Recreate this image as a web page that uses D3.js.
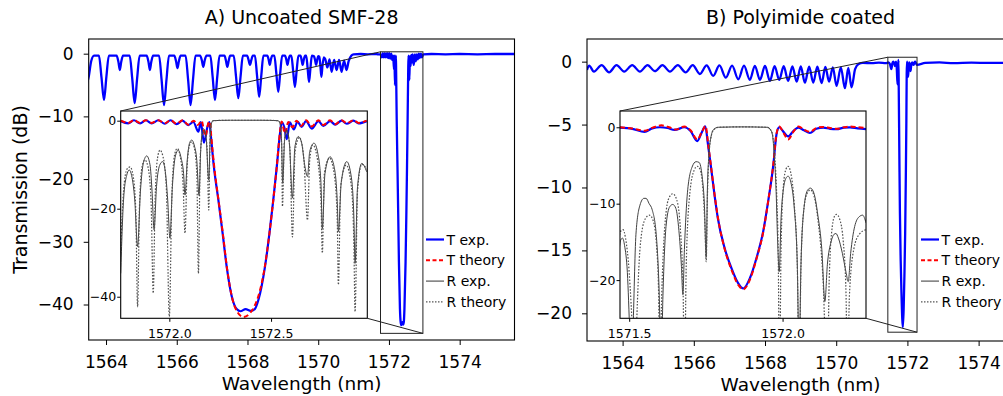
<!DOCTYPE html>
<html>
<head>
<meta charset="utf-8">
<script src="https://cdn.jsdelivr.net/npm/d3@7"></script>
<style>
  body { margin: 0; background: #fff; }
  svg { display: block; }
</style>
</head>
<body>
<svg id="chart" width="1003" height="396"></svg>
<script>
// ---- data (wavelength nm, dB) ----
const titles = ["A) Uncoated SMF-28", "B) Polyimide coated"];
const legendLabels = ["T exp.", "T theory", "R exp.", "R theory"];
const xTicksMain = [1564, 1566, 1568, 1570, 1572, 1574];
const yTicksA = [0, -10, -20, -30, -40];
const yTicksB = [0, -5, -10, -15, -20];
const xTicksInsetA = [1572.0, 1572.5];
const yTicksInsetA = [0, -20, -40];
const xTicksInsetB = [1571.5, 1572.0];
const yTicksInsetB = [0, -10, -20];

// panel A, transmission outside the zoomed window
const aMainLeft = [
  [1563.45,-5.0],[1563.51,-3.7],[1563.58,-1.2],[1563.66,-0.3],
  [1563.80,-0.3],[1563.87,-3.7],[1563.943,-7.4],[1564.01,-3.7],[1564.08,-0.3],
  [1564.30,-0.3],[1564.35,-1.3],[1564.39,-2.6],[1564.43,-1.3],[1564.48,-0.3],
  [1564.67,-0.3],[1564.74,-3.9],[1564.81,-7.9],[1564.88,-3.9],[1564.95,-0.3],
  [1565.15,-0.3],[1565.20,-1.3],[1565.24,-2.6],[1565.28,-1.3],[1565.33,-0.3],
  [1565.50,-0.3],[1565.57,-4.1],[1565.64,-8.2],[1565.71,-4.1],[1565.78,-0.3],
  [1565.93,-0.3],[1565.98,-1.2],[1566.02,-2.3],[1566.06,-1.2],[1566.11,-0.3],
  [1566.25,-0.3],[1566.32,-4.1],[1566.39,-8.2],[1566.46,-4.1],[1566.53,-0.3],
  [1566.66,-0.3],[1566.71,-1.1],[1566.75,-2.1],[1566.79,-1.1],[1566.84,-0.3],
  [1566.95,-0.3],[1567.015,-3.7],[1567.08,-7.4],[1567.145,-3.7],[1567.21,-0.3],
  [1567.35,-0.3],[1567.39,-1.1],[1567.43,-2.1],[1567.47,-1.1],[1567.51,-0.3],
  [1567.61,-0.3],[1567.675,-3.6],[1567.74,-7.1],[1567.805,-3.6],[1567.87,-0.3],
  [1567.99,-0.3],[1568.03,-1.0],[1568.07,-1.8],[1568.11,-1.0],[1568.15,-0.3],
  [1568.21,-0.3],[1568.27,-3.5],[1568.33,-6.9],[1568.39,-3.5],[1568.45,-0.3],
  [1568.56,-0.3],[1568.60,-1.0],[1568.63,-1.8],[1568.66,-1.0],[1568.70,-0.3],
  [1568.76,-0.3],[1568.815,-3.1],[1568.87,-6.1],[1568.925,-3.1],[1568.98,-0.3],
  [1569.06,-0.3],[1569.10,-1.0],[1569.13,-1.8],[1569.16,-1.0],[1569.20,-0.3],
  [1569.24,-0.3],[1569.29,-2.7],[1569.34,-5.3],[1569.39,-2.7],[1569.44,-0.3],
  [1569.50,-0.3],[1569.53,-1.0],[1569.56,-1.8],[1569.59,-1.0],[1569.63,-0.3],
  [1569.66,-0.3],[1569.70,-2.3],[1569.74,-4.5],[1569.78,-2.3],[1569.82,-0.3],
  [1569.88,-0.4],[1569.91,-1.0],[1569.94,-1.8],[1569.97,-1.0],[1570.00,-0.4],
  [1570.03,-0.5],[1570.06,-1.9],[1570.09,-3.7],[1570.12,-1.9],[1570.16,-0.6],
  [1570.20,-0.9],[1570.26,-2.2],[1570.32,-0.9],[1570.38,-2.9],[1570.45,-1.0],
  [1570.52,-2.6],[1570.59,-1.0],[1570.66,-2.9],[1570.73,-1.1],[1570.80,-2.6],
  [1570.86,-1.2],[1570.94,-0.3],[1571.00,-0.1],[1571.20,-0.05],[1571.40,-0.1],
  [1571.60,-0.05],[1571.70,-0.1]
];
const aMainRight = [
  [1573.2,-0.05],[1573.6,-0.1],[1574.0,-0.05],[1574.5,-0.1],[1575.0,-0.05],[1575.6,-0.05]
];

// panel A inset
const aTexp = [
  [1571.761,-0.1],[1571.798,-0.6],[1571.826,0.1],[1571.856,-0.6],[1571.885,0.1],
  [1571.913,-0.6],[1571.946,0.1],[1571.978,-0.7],[1572.006,0.1],[1572.036,-0.8],
  [1572.065,0.0],[1572.093,-1.0],[1572.118,-0.3],[1572.143,-2.5],[1572.155,-0.3],
  [1572.170,-5.0],[1572.187,-1.5],[1572.197,-0.3],[1572.203,-2.9],[1572.219,-10.5],
  [1572.241,-18],[1572.262,-25.6],[1572.282,-33.2],[1572.311,-40.7],[1572.331,-42.8],
  [1572.350,-43.3],[1572.375,-42.8],[1572.400,-43.2],[1572.420,-42.8],[1572.438,-40.7],
  [1572.470,-33.2],[1572.492,-25.6],[1572.511,-18],[1572.528,-10.5],[1572.544,-2.9],
  [1572.552,-0.3],[1572.565,-1.5],[1572.577,-4.2],[1572.592,-0.4],[1572.612,-2.0],
  [1572.630,-0.2],[1572.650,-1.4],[1572.672,-0.1],[1572.700,-1.8],[1572.733,-0.1],
  [1572.757,-1.2],[1572.790,-0.1],[1572.815,-0.9],[1572.847,0.0],[1572.872,-0.7],
  [1572.905,0.0],[1572.930,-0.6],[1572.970,-0.1]
];
const aTtheory = [
  [1571.761,0.0],[1571.798,-0.5],[1571.826,0.1],[1571.856,-0.5],[1571.885,0.1],
  [1571.913,-0.5],[1571.946,0.1],[1571.978,-0.6],[1572.006,0.1],[1572.036,-0.7],
  [1572.065,0.1],[1572.093,-0.9],[1572.120,0.0],[1572.140,-1.0],[1572.158,0.0],
  [1572.178,-3.5],[1572.192,-0.5],[1572.200,-0.2],[1572.206,-3.5],[1572.222,-11],
  [1572.243,-18.5],[1572.264,-26],[1572.285,-34],[1572.310,-40.5],[1572.335,-43.5],
  [1572.364,-44.6],[1572.395,-43.8],[1572.420,-42],[1572.440,-39.5],[1572.470,-33],
  [1572.492,-25.6],[1572.511,-18],[1572.528,-10.5],[1572.543,-2.9],[1572.552,-0.2],
  [1572.568,-2.9],[1572.585,-0.3],[1572.605,-1.5],[1572.625,0.0],[1572.648,-1.2],
  [1572.672,0.1],[1572.700,-1.3],[1572.733,0.1],[1572.757,-1.0],[1572.790,0.1],
  [1572.815,-0.8],[1572.847,0.1],[1572.872,-0.6],[1572.905,0.1],[1572.930,-0.5],
  [1572.970,0.0]
];
const aRexp = [
  [1571.761,-34.7],[1571.775,-18],[1571.790,-12.5],[1571.803,-11.2],[1571.815,-12.5],
  [1571.830,-18],[1571.844,-28.6],[1571.858,-16],[1571.873,-9.5],[1571.889,-8.0],
  [1571.905,-10],[1571.915,-16],[1571.925,-24.8],[1571.937,-15],[1571.952,-10.2],
  [1571.967,-9.3],[1571.980,-11.5],[1571.992,-18],[1572.003,-26.7],[1572.015,-15],
  [1572.030,-8.0],[1572.044,-6.7],[1572.058,-8.5],[1572.070,-12],[1572.077,-16.9],
  [1572.088,-9],[1572.100,-5.0],[1572.110,-4.4],[1572.122,-5.5],[1572.135,-9],
  [1572.146,-17],[1572.155,-6],[1572.167,-1.8],[1572.180,-3.5],[1572.194,-13.5],
  [1572.200,-5],[1572.206,-0.8],[1572.215,0.0],[1572.300,0.1],[1572.450,0.1],
  [1572.535,0.0],[1572.545,-0.8],[1572.552,-5],[1572.557,-14.2],[1572.567,-4],
  [1572.577,-2.1],[1572.590,-5],[1572.605,-17.6],[1572.617,-6],[1572.634,-3.6],
  [1572.650,-5],[1572.665,-10],[1572.679,-12.7],[1572.690,-7],[1572.711,-5.1],
  [1572.730,-7.5],[1572.745,-14],[1572.752,-24.5],[1572.765,-12],[1572.790,-8.2],
  [1572.810,-10.5],[1572.825,-18],[1572.831,-25.2],[1572.845,-14],[1572.872,-9.3],
  [1572.895,-13],[1572.907,-22],[1572.913,-32.4],[1572.925,-15],[1572.946,-9.7],
  [1572.970,-11.6]
];
const aRtheory = [
  [1571.761,-30],[1571.775,-16],[1571.792,-11],[1571.807,-10.5],[1571.820,-12],
  [1571.835,-20],[1571.844,-42.3],[1571.853,-20],[1571.866,-10.5],[1571.880,-8.9],
  [1571.895,-10.5],[1571.910,-18],[1571.921,-39.2],[1571.930,-18],[1571.942,-8.5],
  [1571.954,-6.7],[1571.968,-8],[1571.985,-15],[1572.000,-44.5],[1572.012,-18],
  [1572.025,-8],[1572.039,-6.3],[1572.053,-8],[1572.068,-15],[1572.077,-25.6],
  [1572.088,-10],[1572.100,-5.5],[1572.110,-4.8],[1572.122,-6],[1572.135,-12],
  [1572.143,-34.7],[1572.152,-8],[1572.165,-2.8],[1572.175,-2.5],[1572.185,-6],
  [1572.194,-20.3],[1572.200,-4],[1572.207,-0.5],[1572.217,0.0],[1572.300,0.1],
  [1572.450,0.1],[1572.535,0.0],[1572.546,-1],[1572.552,-6],[1572.556,-19.5],
  [1572.565,-5],[1572.577,-2.5],[1572.592,-6],[1572.605,-26.4],[1572.618,-7],
  [1572.639,-3.8],[1572.660,-8],[1572.679,-22.6],[1572.690,-9],[1572.705,-5.5],
  [1572.725,-8],[1572.745,-18],[1572.752,-30.1],[1572.762,-12],[1572.787,-8.5],
  [1572.810,-12],[1572.825,-22],[1572.831,-37.3],[1572.842,-15],[1572.869,-10.1],
  [1572.895,-15],[1572.907,-28],[1572.913,-43.4],[1572.925,-16],[1572.946,-9.9],
  [1572.970,-11]
];

// panel B, transmission outside the zoomed window
const bMainLeft = [
  [1563.0,-0.66],[1563.06,-0.32],[1563.194,-0.79],[1563.41,-0.28],[1563.62,-0.85],
  [1563.83,-0.28],[1564.045,-0.79],[1564.27,-0.28],[1564.486,-0.79],[1564.70,-0.28],
  [1564.907,-0.75],[1565.12,-0.28],[1565.33,-0.79],[1565.55,-0.28],[1565.77,-0.85],
  [1565.97,-0.28],[1566.17,-0.98],[1566.36,-0.30],[1566.545,-1.13],[1566.72,-0.30],
  [1566.90,-1.27],[1567.075,-0.32],[1567.25,-1.40],[1567.41,-0.32],[1567.575,-1.45],
  [1567.715,-0.33],[1567.857,-1.45],[1568.0,-0.34],[1568.138,-1.53],[1568.27,-0.35],
  [1568.40,-1.45],[1568.525,-0.36],[1568.65,-1.53],[1568.77,-0.37],[1568.89,-1.59],
  [1569.005,-0.38],[1569.12,-1.67],[1569.24,-0.40],[1569.355,-1.67],[1569.47,-0.40],
  [1569.59,-1.71],[1569.695,-0.42],[1569.80,-1.59],[1569.905,-0.45],[1570.01,-1.93],
  [1570.13,-0.45],[1570.245,-2.11],[1570.34,-0.50],[1570.43,-2.04],[1570.53,-0.60],
  [1570.62,-0.20],[1570.75,-0.10],[1571.0,-0.12],[1571.2,-0.08],[1571.40,-0.12]
];
const bMainRight = [
  [1572.5,-0.1],[1572.9,-0.06],[1573.3,-0.12],[1573.8,-0.08],[1574.3,-0.1],[1575.1,-0.08]
];

// panel B inset
const bTexp = [
  [1571.470,-0.05],[1571.510,-0.2],[1571.550,-0.6],[1571.575,-0.15],[1571.600,0.0],
  [1571.625,-0.1],[1571.648,-0.35],[1571.680,0.0],[1571.700,-0.5],[1571.722,-1.8],
  [1571.735,-0.8],[1571.748,0.13],[1571.757,-2.3],[1571.767,-5.3],[1571.778,-8.8],
  [1571.789,-11.9],[1571.811,-15.8],[1571.833,-18.4],[1571.855,-20.4],[1571.872,-21.1],
  [1571.894,-19.7],[1571.915,-17.1],[1571.937,-13.6],[1571.953,-9.7],[1571.970,-4.9],
  [1571.980,-0.97],[1571.989,0.0],[1572.003,-0.6],[1572.018,-1.2],[1572.035,-0.5],
  [1572.051,-0.05],[1572.070,-0.4],[1572.089,-0.75],[1572.110,-0.2],[1572.133,-0.05],
  [1572.155,-0.2],[1572.176,-0.25],[1572.200,-0.05],[1572.220,0.0],[1572.245,-0.15],
  [1572.272,-0.25]
];
const bTtheory = [
  [1571.470,0.0],[1571.510,-0.15],[1571.550,-0.45],[1571.580,0.0],[1571.605,0.25],
  [1571.630,0.0],[1571.652,-0.3],[1571.680,0.1],[1571.700,-0.4],[1571.722,-1.6],
  [1571.737,-0.6],[1571.749,0.15],[1571.758,-2.4],[1571.768,-5.5],[1571.779,-9.0],
  [1571.790,-12.0],[1571.811,-15.9],[1571.833,-18.6],[1571.855,-20.6],[1571.872,-21.2],
  [1571.894,-19.9],[1571.915,-17.2],[1571.937,-13.7],[1571.953,-9.7],[1571.970,-4.8],
  [1571.980,-0.9],[1571.989,0.1],[1572.004,-0.8],[1572.018,-1.6],[1572.035,-0.6],
  [1572.052,0.1],[1572.070,-0.3],[1572.089,-0.6],[1572.110,-0.1],[1572.133,0.05],
  [1572.155,-0.1],[1572.178,-0.2],[1572.200,0.0],[1572.220,0.1],[1572.245,0.0],
  [1572.272,-0.1]
];
const bRexp = [
  [1571.466,-16.5],[1571.472,-14.8],[1571.478,-14.5],[1571.485,-15.5],[1571.494,-19],
  [1571.502,-27],[1571.507,-32],[1571.512,-27],[1571.522,-14],[1571.535,-10.2],
  [1571.548,-9.3],[1571.555,-9.3],[1571.565,-10.0],[1571.575,-10.8],[1571.588,-14],
  [1571.598,-22],[1571.604,-32],[1571.610,-22],[1571.620,-13],[1571.632,-10.4],
  [1571.642,-10.1],[1571.652,-10.6],[1571.662,-13.5],[1571.670,-18],[1571.675,-21.9],
  [1571.680,-16],[1571.690,-8.5],[1571.705,-5.2],[1571.718,-4.5],[1571.728,-4.6],
  [1571.738,-6.5],[1571.745,-10],[1571.751,-17],[1571.755,-8],[1571.760,-3.5],
  [1571.767,-1.2],[1571.775,-0.3],[1571.790,0.0],[1571.870,0.05],[1571.950,0.0],
  [1571.962,-0.4],[1571.967,-1.0],[1571.972,-3.1],[1571.979,-8.4],[1571.984,-15],
  [1571.989,-18.9],[1571.995,-12],[1572.003,-8],[1572.012,-6.6],[1572.018,-6.4],
  [1572.027,-7.2],[1572.038,-10.5],[1572.048,-18],[1572.054,-30],[1572.060,-18],
  [1572.070,-10.5],[1572.082,-8.2],[1572.091,-7.96],[1572.102,-8.6],[1572.115,-11.5],
  [1572.128,-16],[1572.138,-22.8],[1572.146,-18],[1572.158,-15],[1572.168,-14.0],
  [1572.174,-13.9],[1572.182,-14.5],[1572.195,-16.5],[1572.207,-19],[1572.214,-20.2],
  [1572.222,-16.5],[1572.235,-13],[1572.250,-11.7],[1572.261,-11.5],[1572.272,-12.5]
];
const bRtheory = [
  [1571.466,-14.5],[1571.474,-13.5],[1571.480,-13.4],[1571.488,-14.5],[1571.500,-19],
  [1571.512,-28],[1571.518,-34],[1571.524,-26],[1571.536,-15.5],[1571.552,-12],
  [1571.566,-11.5],[1571.578,-12.2],[1571.590,-16],[1571.596,-22],[1571.599,-34],
  [1571.606,-22],[1571.618,-12],[1571.630,-9.2],[1571.642,-8.7],[1571.655,-9.5],
  [1571.668,-14],[1571.676,-22],[1571.680,-34],[1571.686,-18],[1571.698,-8.5],
  [1571.712,-5.6],[1571.722,-5.1],[1571.732,-5.6],[1571.741,-8.5],[1571.747,-13],
  [1571.751,-17.6],[1571.755,-9],[1571.760,-3.8],[1571.767,-1.2],[1571.776,-0.3],
  [1571.790,0.0],[1571.870,0.05],[1571.950,0.0],[1571.962,-0.4],[1571.968,-1.1],
  [1571.974,-3.5],[1571.981,-9],[1571.986,-17],[1571.990,-34],[1571.995,-16],
  [1572.003,-7.5],[1572.011,-5.5],[1572.018,-5.1],[1572.027,-6],[1572.038,-10],
  [1572.048,-18],[1572.054,-34],[1572.060,-18],[1572.070,-10.5],[1572.082,-8.5],
  [1572.091,-8.2],[1572.102,-8.9],[1572.115,-12],[1572.132,-20],[1572.146,-34],
  [1572.152,-20],[1572.162,-13],[1572.170,-11.6],[1572.176,-11.4],[1572.186,-12],
  [1572.198,-15],[1572.207,-22],[1572.211,-34],[1572.218,-22],[1572.232,-16],
  [1572.250,-14],[1572.272,-13.4]
];

// ---- drawing ----
const FONT = "DejaVu Sans, sans-serif";
const svg = d3.select("#chart");
svg.append("rect").attr("width", 1003).attr("height", 396).attr("fill", "#fff");

const blue = "#0000ff", red = "#ff0000", rExpCol = "#404040", rThCol = "#505050";

function mkLine(x, y) {
  return d3.line().x(d => x(d[0])).y(d => y(d[1])).curve(d3.curveMonotoneX);
}

function styleAxis(g, fs) {
  g.attr("font-family", FONT).attr("font-size", fs);
  g.select(".domain").remove();
  g.selectAll(".tick line").attr("stroke", "#000").attr("stroke-width", 1);
  g.selectAll(".tick text").attr("fill", "#000");
}

function drawPanel(p, idx) {
  const g = svg.append("g");
  const x = d3.scaleLinear().domain(p.xDom).range([p.box[0], p.box[1]]);
  const y = d3.scaleLinear().domain(p.yDom).range([p.box[3], p.box[2]]);

  const clipId = "clipMain" + idx;
  svg.append("clipPath").attr("id", clipId).append("rect")
    .attr("x", p.box[0]).attr("y", p.box[2])
    .attr("width", p.box[1] - p.box[0]).attr("height", p.box[3] - p.box[2]);

  const series = p.mainLeft.concat(p.tExp, p.mainRight);
  g.append("path").datum(series)
    .attr("clip-path", `url(#${clipId})`)
    .attr("fill", "none").attr("stroke", blue).attr("stroke-width", 2.3)
    .attr("stroke-linejoin", "round")
    .attr("d", mkLine(x, y));

  g.append("rect")
    .attr("x", p.box[0]).attr("y", p.box[2])
    .attr("width", p.box[1] - p.box[0]).attr("height", p.box[3] - p.box[2])
    .attr("fill", "none").attr("stroke", "#000").attr("stroke-width", 1.1);

  const ax = g.append("g").attr("transform", `translate(0,${p.box[3]})`)
    .call(d3.axisBottom(x).tickValues(xTicksMain).tickFormat(d3.format("d")).tickSize(5).tickPadding(11));
  styleAxis(ax, 17);
  const ay = g.append("g").attr("transform", `translate(${p.box[0]},0)`)
    .call(d3.axisLeft(y).tickValues(p.yTicks).tickFormat(d3.format("d")).tickSize(5).tickPadding(10));
  styleAxis(ay, 17);

  g.append("text").attr("x", (p.box[0] + p.box[1]) / 2 + p.titleShift).attr("y", 23.5)
    .attr("text-anchor", "middle").attr("font-family", FONT).attr("font-size", 19)
    .text(titles[idx]);
  g.append("text").attr("x", (p.box[0] + p.box[1]) / 2 + p.titleShift).attr("y", p.box[3] + 50)
    .attr("text-anchor", "middle").attr("font-family", FONT).attr("font-size", 18.5)
    .text("Wavelength (nm)");

  // inset
  const ib = p.ibox;
  const ix = d3.scaleLinear().domain(p.ixDom).range([ib[0], ib[1]]);
  const iy = d3.scaleLinear().domain(p.iyDom).range([ib[3], ib[2]]);
  const iclip = "clipInset" + idx;
  svg.append("clipPath").attr("id", iclip).append("rect")
    .attr("x", ib[0]).attr("y", ib[2]).attr("width", ib[1] - ib[0]).attr("height", ib[3] - ib[2]);

  const ig = svg.append("g");
  ig.append("rect").attr("x", ib[0]).attr("y", ib[2])
    .attr("width", ib[1] - ib[0]).attr("height", ib[3] - ib[2]).attr("fill", "#fff");
  const il = mkLine(ix, iy);
  const lines = ig.append("g").attr("clip-path", `url(#${iclip})`);
  lines.append("path").datum(p.tExp).attr("fill", "none").attr("stroke", blue)
    .attr("stroke-width", 2.2).attr("d", il);
  lines.append("path").datum(p.tTh).attr("fill", "none").attr("stroke", red)
    .attr("stroke-width", 2).attr("stroke-dasharray", "5,3").attr("d", il);
  lines.append("path").datum(p.rExp).attr("fill", "none").attr("stroke", rExpCol)
    .attr("stroke-width", 1).attr("d", il);
  lines.append("path").datum(p.rTh).attr("fill", "none").attr("stroke", rThCol)
    .attr("stroke-width", 1.2).attr("stroke-dasharray", "1.6,1.6").attr("d", il);
  ig.append("rect").attr("x", ib[0]).attr("y", ib[2])
    .attr("width", ib[1] - ib[0]).attr("height", ib[3] - ib[2])
    .attr("fill", "none").attr("stroke", "#000").attr("stroke-width", 1.1);

  const iax = ig.append("g").attr("transform", `translate(0,${ib[3]})`)
    .call(d3.axisBottom(ix).tickValues(p.ixTicks).tickFormat(d3.format(".1f")).tickSize(3.5).tickPadding(7));
  styleAxis(iax, 12.5);
  const iay = ig.append("g").attr("transform", `translate(${ib[0]},0)`)
    .call(d3.axisLeft(iy).tickValues(p.iyTicks).tickFormat(d3.format("d")).tickSize(3.5).tickPadding(1));
  styleAxis(iay, 12.5);

  // zoom indicator and connectors
  const zx0 = x(p.zoomX[0]), zx1 = x(p.zoomX[1]);
  const zy0 = y(p.zoomY[1]), zy1 = y(p.zoomY[0]);
  const zg = svg.append("g").attr("stroke", "#222").attr("stroke-width", 1).attr("fill", "none");
  zg.append("rect").attr("x", zx0).attr("y", zy0).attr("width", zx1 - zx0).attr("height", zy1 - zy0);
  zg.append("line").attr("x1", zx0).attr("y1", zy0).attr("x2", ib[0]).attr("y2", ib[2]);
  zg.append("line").attr("x1", zx1).attr("y1", zy1).attr("x2", ib[1]).attr("y2", ib[3]);

  // legend
  const styles = [
    { c: blue, w: 2.2, d: null },
    { c: red, w: 2, d: "4,2.5" },
    { c: "#555", w: 1.2, d: null },
    { c: "#555", w: 1.2, d: "1.5,1.5" }
  ];
  const lg = svg.append("g");
  legendLabels.forEach((t, i) => {
    const yy = p.legend[1] + i * 20.8;
    lg.append("line").attr("x1", p.legend[0]).attr("x2", p.legend[0] + 18)
      .attr("y1", yy).attr("y2", yy)
      .attr("stroke", styles[i].c).attr("stroke-width", styles[i].w)
      .attr("stroke-dasharray", styles[i].d);
    lg.append("text").attr("x", p.legend[0] + 20.5).attr("y", yy + 5)
      .attr("font-family", FONT).attr("font-size", 14).text(t);
  });
}

drawPanel({
  box: [88.7, 514.5, 39, 340], xDom: [1563.51, 1575.55], yDom: [-45.66, 2.34],
  yTicks: yTicksA, titleShift: 0,
  mainLeft: aMainLeft, mainRight: aMainRight,
  tExp: aTexp, tTh: aTtheory, rExp: aRexp, rTh: aRtheory,
  ibox: [120.7, 367.3, 111, 318.3], ixDom: [1571.761, 1572.973], iyDom: [-44.9, 2.2],
  ixTicks: xTicksInsetA, iyTicks: yTicksInsetA,
  zoomX: [1571.761, 1572.96], zoomY: [-44.6, 0.3],
  legend: [426, 239.5]
}, 0);

drawPanel({
  box: [587, 1016, 39, 341], xDom: [1563.0, 1575.05], yDom: [-22.2, 1.8],
  yTicks: yTicksB, titleShift: -1,
  mainLeft: bMainLeft, mainRight: bMainRight,
  tExp: bTexp, tTh: bTtheory, rExp: bRexp, rTh: bRtheory,
  ibox: [620, 866, 111, 318.3], ixDom: [1571.47, 1572.272], iyDom: [-25.0, 2.13],
  ixTicks: xTicksInsetB, iyTicks: yTicksInsetB,
  zoomX: [1571.45, 1572.27], zoomY: [-21.5, 0.35],
  legend: [921, 239.5]
}, 1);

svg.append("text")
  .attr("transform", "translate(27,189.5) rotate(-90)")
  .attr("text-anchor", "middle").attr("font-family", FONT).attr("font-size", 19)
  .text("Transmission (dB)");
</script>
</body>
</html>
